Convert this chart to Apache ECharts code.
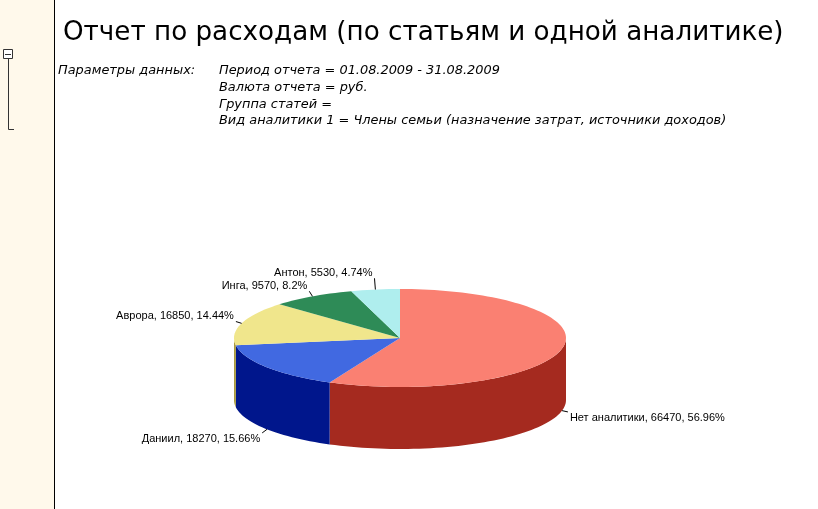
<!DOCTYPE html>
<html>
<head>
<meta charset="utf-8">
<script src="https://cdn.jsdelivr.net/npm/echarts@6/dist/echarts.min.js"></script>
<style>
  html, body { margin: 0; padding: 0; background: #fff; }
  #charts { width: 818px; height: 509px; }
</style>
</head>
<body>
<div id="charts"></div>
<script>
// data
var names = ['Нет аналитики', 'Даниил', 'Аврора', 'Инга', 'Антон'];
var values = [66470, 18270, 16850, 9570, 5530];
var titleText = 'Отчет по расходам (по статьям и одной аналитике)';
var paramLabel = 'Параметры данных:';
var paramLines = [
    'Период отчета = 01.08.2009 - 31.08.2009',
    'Валюта отчета = руб.',
    'Группа статей =',
    'Вид аналитики 1 = Члены семьи (назначение затрат, источники доходов)'
];

// styles
var topColors = ['#FA8072', '#4169E1', '#F0E68C', '#2E8B57', '#AFEEEE'];
var sideColors = ['#A52A1F', '#00168C', '#A89A3E', '#1F5E3A', '#7FB0B0'];
var pie = { cx: 400, cy: 338, rx: 166, ry: 49, depth: 62 };

var total = values.reduce(function (a, b) { return a + b; }, 0);

// angle in degrees, clockwise from 12 o'clock
function pt(deg, dy) {
    var r = deg * Math.PI / 180;
    return [pie.cx + pie.rx * Math.sin(r), pie.cy - pie.ry * Math.cos(r) + (dy || 0)];
}
function arc(a0, a1, dy) {
    var n = Math.max(2, Math.ceil((a1 - a0) / 2));
    var pts = [];
    for (var i = 0; i <= n; i++) pts.push(pt(a0 + (a1 - a0) * i / n, dy));
    return pts;
}

// slice angles + label placement (push back labels up so they don't overlap)
var slices = [];
var acc = 0, prevTop = null;
values.forEach(function (v, i) {
    var a0 = acc / total * 360;
    acc += v;
    var a1 = acc / total * 360;
    var mid = (a0 + a1) / 2;
    var r = mid * Math.PI / 180;
    var front = mid > 90 && mid < 270;
    var anchor = pt(mid, front ? pie.depth : 0);
    var end = [anchor[0] + Math.sin(r) * 6, anchor[1] - Math.cos(r) * 6];
    if (mid > 270) {
        if (prevTop !== null && end[1] > prevTop - 1) end[1] = prevTop - 1;
        prevTop = end[1] - 12;
    }
    slices.push({
        a0: a0, a1: a1, anchor: anchor, end: end,
        right: Math.sin(r) > 0, below: front,
        text: names[i] + ', ' + v + ', ' + (+(v / total * 100).toFixed(2)) + '%'
    });
});

var myChart = echarts.init(document.getElementById('charts'), null, { width: 818, height: 509 });

var paramFont = 'italic 12.9px "DejaVu Sans"';
var graphics = [
    { type: 'rect', shape: { x: 0, y: 0, width: 54, height: 509 }, style: { fill: '#FFF9EB' } },
    { type: 'line', shape: { x1: 54.5, y1: 0, x2: 54.5, y2: 509 }, style: { stroke: '#000', lineWidth: 1 } },
    { type: 'rect', shape: { x: 3.5, y: 49.5, width: 9, height: 9 }, style: { fill: '#fff', stroke: '#333', lineWidth: 1 } },
    { type: 'line', shape: { x1: 5, y1: 54.5, x2: 11, y2: 54.5 }, style: { stroke: '#333', lineWidth: 1 } },
    { type: 'polyline', shape: { points: [[8.5, 59], [8.5, 129.5], [14, 129.5]] }, style: { stroke: '#333', lineWidth: 1, fill: null } },
    { type: 'text', x: 63, y: 33, style: { text: titleText, font: '26.2px "DejaVu Sans"', fill: '#000', verticalAlign: 'middle' } },
    { type: 'text', x: 58, y: 71, style: { text: paramLabel, font: paramFont, fill: '#000', verticalAlign: 'middle' } }
];
paramLines.forEach(function (t, i) {
    graphics.push({ type: 'text', x: 219, y: 71 + i * 16.7, style: { text: t, font: paramFont, fill: '#000', verticalAlign: 'middle' } });
});

var option = {
    animation: false,
    graphic: graphics,
    xAxis: { show: false },
    yAxis: { show: false },
    series: [{
        type: 'custom',
        coordinateSystem: 'none',
        silent: true,
        data: values.map(function (v, i) { return [i, v]; }),
        renderItem: function (params, api) {
            var i = params.dataIndex;
            var s = slices[i];
            var children = [];
            var w0 = Math.max(s.a0, 90), w1 = Math.min(s.a1, 270);
            if (w1 > w0) {
                children.push({
                    type: 'polygon',
                    shape: { points: arc(w0, w1, 0).concat(arc(w0, w1, pie.depth).reverse()) },
                    style: { fill: sideColors[i] }
                });
            }
            children.push({
                type: 'polygon',
                shape: { points: [[pie.cx, pie.cy]].concat(arc(s.a0, s.a1, 0)) },
                style: { fill: topColors[i] }
            });
            children.push({
                type: 'polyline',
                shape: { points: [s.anchor, s.end] },
                style: { stroke: '#000', lineWidth: 1, fill: null }
            });
            children.push({
                type: 'text',
                x: s.end[0] + (s.right ? 2 : -2),
                y: s.end[1] + (s.below ? 1 : 0),
                style: {
                    text: s.text,
                    font: '11px "Liberation Sans"',
                    fill: '#000',
                    align: s.right ? 'left' : 'right',
                    verticalAlign: s.below ? 'top' : 'bottom'
                }
            });
            return { type: 'group', children: children };
        }
    }]
};

myChart.setOption(option);
</script>
</body>
</html>
